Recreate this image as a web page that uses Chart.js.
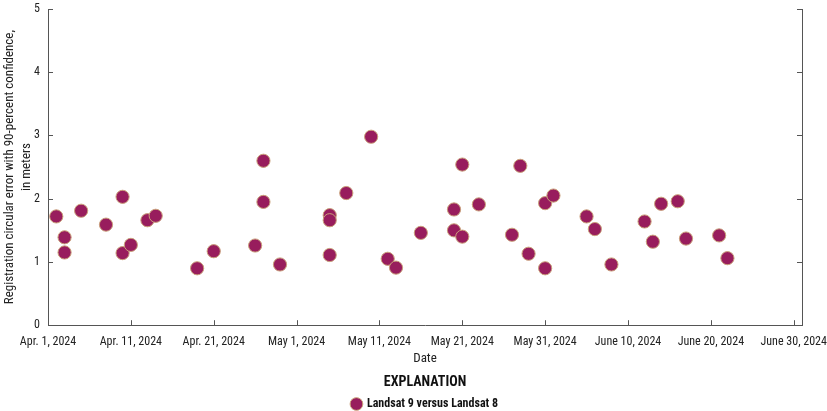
<!DOCTYPE html>
<html>
<head>
<meta charset="utf-8">
<script src="https://cdn.jsdelivr.net/npm/chart.js@4.4.1/dist/chart.umd.min.js"></script>
<style>
  html, body { margin: 0; padding: 0; background: #fff; }
  #wrap { width: 827px; height: 411px; }
</style>
</head>
<body>
<div id="wrap"><canvas id="chart" width="827" height="411"></canvas></div>
<script>
// Acquisition dates and registration error (m)
var obsDates = [
  "2024-04-02", "2024-04-03", "2024-04-03", "2024-04-05", "2024-04-08",
  "2024-04-10", "2024-04-10", "2024-04-11", "2024-04-13", "2024-04-14",
  "2024-04-19", "2024-04-21", "2024-04-26", "2024-04-27", "2024-04-27",
  "2024-04-29", "2024-05-05", "2024-05-05", "2024-05-05", "2024-05-07",
  "2024-05-10", "2024-05-12", "2024-05-13", "2024-05-16", "2024-05-20",
  "2024-05-20", "2024-05-21", "2024-05-21", "2024-05-23", "2024-05-27",
  "2024-05-28", "2024-05-29", "2024-05-31", "2024-05-31", "2024-06-01",
  "2024-06-05", "2024-06-06", "2024-06-08", "2024-06-12", "2024-06-13",
  "2024-06-14", "2024-06-16", "2024-06-17", "2024-06-21", "2024-06-22"
];
var errValues = [
  1.72, 1.39, 1.15, 1.81, 1.59,
  2.03, 1.14, 1.27, 1.66, 1.73,
  0.90, 1.17, 1.26, 2.60, 1.95,
  0.96, 1.74, 1.66, 1.11, 2.09,
  2.98, 1.05, 0.91, 1.46, 1.83,
  1.50, 2.54, 1.40, 1.91, 1.43,
  2.52, 1.13, 1.93, 0.90, 2.05,
  1.72, 1.52, 0.96, 1.64, 1.32,
  1.92, 1.96, 1.37, 1.42, 1.06
];
var tickDays = [0, 10, 20, 30, 40, 50, 60, 70, 80, 90];
var tickLabels = [
  "Apr. 1, 2024", "Apr. 11, 2024", "Apr. 21, 2024", "May 1, 2024", "May 11, 2024",
  "May 21, 2024", "May 31, 2024", "June 10, 2024", "June 20, 2024", "June 30, 2024"
];
var yTicks = [0, 1, 2, 3, 4, 5];
var seriesName = "Landsat 9 versus Landsat 8";

var FONT = "'Liberation Sans Narrow', 'Roboto Condensed', Roboto, sans-serif";
var startMs = Date.UTC(2024, 3, 1);

// days since Apr. 1
function dayOf(s) {
  var p = s.split("-");
  return (Date.UTC(+p[0], +p[1] - 1, +p[2]) - startMs) / 86400000;
}

var points = obsDates.map(function (d, i) {
  return { x: dayOf(d), y: errValues[i] };
});

// short inward tick marks on the axes
var innerTicks = {
  id: "innerTicks",
  afterDraw: function (chart) {
    var ctx = chart.ctx, a = chart.chartArea;
    var xs = chart.scales.x, ys = chart.scales.y;
    ctx.save();
    ctx.strokeStyle = "#555";
    ctx.lineWidth = 1;
    ctx.beginPath();
    tickDays.forEach(function (d) {
      var px = Math.round(xs.getPixelForValue(d)) + 0.5;
      ctx.moveTo(px, a.bottom);
      ctx.lineTo(px, a.bottom - 5);
    });
    yTicks.forEach(function (v) {
      var py = Math.round(ys.getPixelForValue(v)) + 0.5;
      ctx.moveTo(a.left, py);
      ctx.lineTo(a.left + 5, py);
      ctx.moveTo(a.right, py);
      ctx.lineTo(a.right - 5, py);
    });
    ctx.stroke();
    ctx.restore();
  }
};

new Chart(document.getElementById("chart"), {
  type: "scatter",
  data: {
    datasets: [{
      label: seriesName,
      data: points,
      backgroundColor: "#981d5d",
      borderColor: "#c9a07a",
      borderWidth: 1,
      pointRadius: 6.6,
      pointHoverRadius: 6.6
    }]
  },
  options: {
    responsive: false,
    animation: false,
    layout: { padding: { top: 9, right: 25, left: 0, bottom: -9 } },
    plugins: {
      tooltip: { enabled: false },
      legend: {
        position: "bottom",
        fullSize: false,
        title: {
          display: true,
          text: "EXPLANATION",
          color: "#111",
          font: { family: FONT, size: 14, weight: "bold" },
          padding: { top: 3, bottom: 2 }
        },
        labels: {
          usePointStyle: true,
          pointStyle: "circle",
          boxWidth: 9,
          boxHeight: 9,
          color: "#111",
          padding: 4,
          font: { family: FONT, size: 12, weight: "bold" }
        }
      }
    },
    scales: {
      x: {
        type: "linear",
        min: 0,
        max: 91,
        afterBuildTicks: function (scale) {
          scale.ticks = tickDays.map(function (v) { return { value: v }; });
        },
        afterFit: function (scale) {
          scale.height = 47;
          scale.paddingLeft = 0;
          scale.paddingRight = 0;
        },
        grid: { display: false, drawTicks: false },
        border: { display: true, color: "#555", width: 1 },
        ticks: {
          padding: 10,
          maxRotation: 0,
          autoSkip: false,
          color: "#222",
          font: { family: FONT, size: 12 },
          callback: function (v) {
            var i = tickDays.indexOf(v);
            return i >= 0 ? tickLabels[i] : "";
          }
        },
        title: {
          display: true,
          text: "Date",
          color: "#222",
          font: { family: FONT, size: 13 },
          padding: { top: 0, bottom: 6 }
        }
      },
      y: {
        min: 0,
        max: 5,
        afterBuildTicks: function (scale) {
          scale.ticks = yTicks.map(function (v) { return { value: v }; });
        },
        afterFit: function (scale) {
          scale.width = 48;
          scale.paddingTop = 0;
          scale.paddingBottom = 0;
        },
        grid: { display: false, drawTicks: false },
        border: { display: true, color: "#555", width: 1 },
        ticks: {
          padding: 8,
          color: "#222",
          font: { family: FONT, size: 12 }
        },
        title: {
          display: true,
          text: ["Registration circular error with 90-percent confidence,", "in meters"],
          color: "#222",
          font: { family: FONT, size: 13, lineHeight: 1.3 },
          padding: { top: 1, bottom: 2 }
        }
      },
      y2: {
        position: "right",
        min: 0,
        max: 5,
        afterFit: function (scale) {
          scale.width = 0;
          scale.paddingTop = 0;
          scale.paddingBottom = 0;
        },
        grid: { display: false, drawTicks: false },
        border: { display: true, color: "#555", width: 1 },
        ticks: { display: false }
      }
    }
  },
  plugins: [innerTicks]
});
</script>
</body>
</html>
